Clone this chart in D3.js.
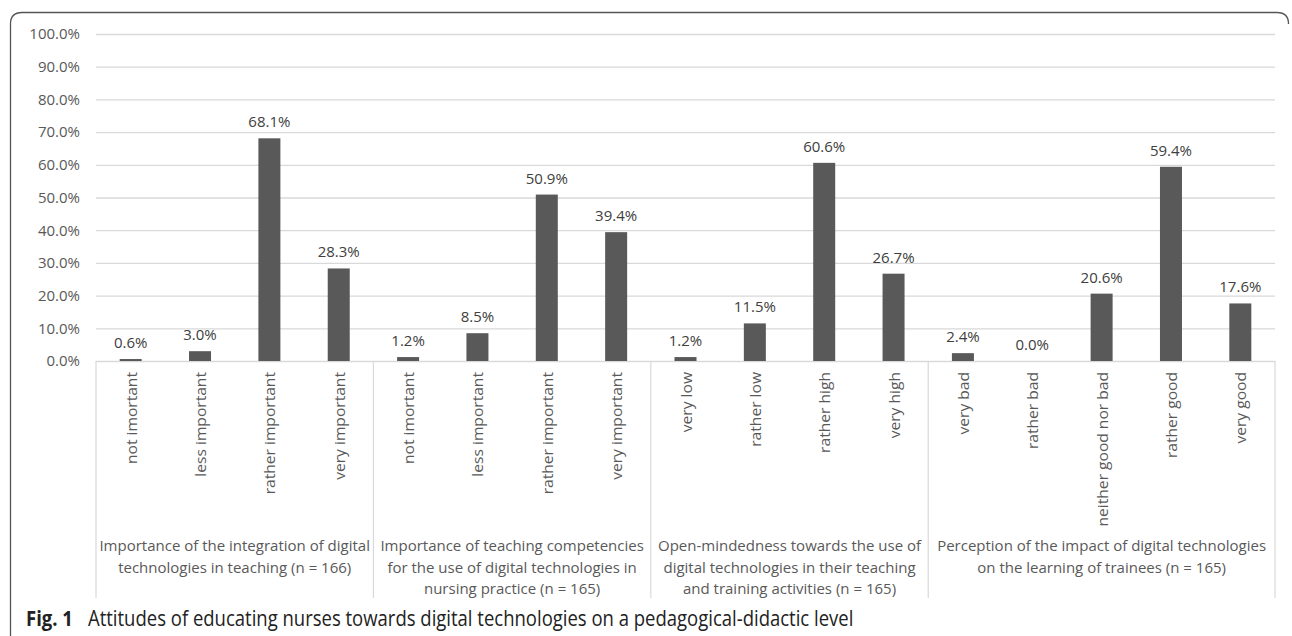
<!DOCTYPE html>
<html>
<head>
<meta charset="utf-8">
<script src="https://cdn.jsdelivr.net/npm/d3@7"></script>
<style>
  body { margin: 0; background: #fff; }
  svg { display: block; font-family: "Open Sans", sans-serif; }
</style>
</head>
<body>
<script>
// groups of answers, in drawing order
var groupTitles = [
  ["Importance of the integration of digital", "technologies in teaching (n = 166)"],
  ["Importance of teaching competencies", "for the use of digital technologies in", "nursing practice (n = 165)"],
  ["Open-mindedness towards the use of", "digital technologies in their teaching", "and training activities (n = 165)"],
  ["Perception of the impact of digital technologies", "on the learning of trainees (n = 165)"]
];
var groupSizes = [4, 4, 4, 5];
var answers = [
  "not imortant", "less important", "rather important", "very important",
  "not imortant", "less important", "rather important", "very important",
  "very low", "rather low", "rather high", "very high",
  "very bad", "rather bad", "neither good nor bad", "rather good", "very good"
];
var shares = [0.6, 3.0, 68.1, 28.3, 1.2, 8.5, 50.9, 39.4, 1.2, 11.5, 60.6, 26.7, 2.4, 0.0, 20.6, 59.4, 17.6];
var yTicks = [0, 10, 20, 30, 40, 50, 60, 70, 80, 90, 100];

var W = 1292, H = 636;
var plotL = 96, plotR = 1275, plotT = 34, plotB = 361;

var svg = d3.select("body").append("svg").attr("width", W).attr("height", H);

// frame round the figure
svg.append("path")
  .attr("d", "M10.5," + H + " L10.5,24 Q10.5,12.5 22,12.5 L1277,12.5 Q1288.5,12.5 1288.5,24")
  .attr("fill", "none").attr("stroke", "#555").attr("stroke-width", 1.3);

var idx = d3.range(answers.length);
var x = d3.scaleBand().domain(idx).range([plotL, plotR]).paddingInner(0).paddingOuter(0);
var y = d3.scaleLinear().domain([0, 100]).range([plotB, plotT]);

// gridlines + y labels
var yAxis = d3.axisLeft(y).tickValues(yTicks).tickSize(-(plotR - plotL)).tickPadding(16)
  .tickFormat(function(d) { return d.toFixed(1) + "%"; });
var ga = svg.append("g").attr("transform", "translate(" + plotL + ",0)").call(yAxis);
ga.select(".domain").remove();
ga.selectAll(".tick line").attr("stroke", "#d9d9d9").attr("stroke-width", 1.3);
ga.selectAll(".tick text").attr("fill", "#595959").style("font-size", "15px")
  .style("font-family", "Open Sans");

// group separators
var bounds = [0];
groupSizes.forEach(function(n, i) { bounds.push(bounds[i] + n); });
function edge(b) { return b < answers.length ? x(b) : plotR; }
svg.append("g").selectAll("line").data(bounds).join("line")
  .attr("x1", edge).attr("x2", edge)
  .attr("y1", plotB).attr("y2", 598)
  .attr("stroke", "#d9d9d9").attr("stroke-width", 1.2);

// bars
var bw = 22;
svg.append("g").selectAll("rect").data(idx).join("rect")
  .attr("x", function(i) { return x(i) + x.bandwidth() / 2 - bw / 2; })
  .attr("y", function(i) { return y(shares[i]); })
  .attr("width", bw)
  .attr("height", function(i) { return plotB - y(shares[i]); })
  .attr("fill", "#595959");

// value labels
svg.append("g").selectAll("text").data(idx).join("text")
  .attr("x", function(i) { return x(i) + x.bandwidth() / 2; })
  .attr("y", function(i) { return y(shares[i]) - 11; })
  .attr("text-anchor", "middle")
  .attr("fill", "#404040").style("font-size", "15px")
  .text(function(i) { return shares[i].toFixed(1) + "%"; });

// rotated answer labels
svg.append("g").selectAll("text").data(idx).join("text")
  .attr("transform", function(i) {
    return "translate(" + (x(i) + x.bandwidth() / 2 + 6) + ",372) rotate(-90) scale(1.04,1)";
  })
  .attr("text-anchor", "end")
  .attr("fill", "#595959").style("font-size", "15px")
  .text(function(i) { return answers[i]; });

// group titles
groupTitles.forEach(function(lines, g) {
  var cx = (edge(bounds[g]) + edge(bounds[g + 1])) / 2;
  var t = svg.append("text").attr("text-anchor", "middle")
    .attr("fill", "#595959").style("font-size", "15px");
  lines.forEach(function(s, k) {
    t.append("tspan").attr("x", cx).attr("y", 551 + k * 21.5).text(s);
  });
});

// caption
var cap = svg.append("text").attr("transform", "translate(0,626) scale(1,1.15)")
  .attr("fill", "#222").style("font-size", "18.5px");
cap.append("tspan").attr("x", 26).style("font-weight", "bold").text("Fig. 1");
cap.append("tspan").attr("x", 88).text("Attitudes of educating nurses towards digital technologies on a pedagogical-didactic level");
</script>
</body>
</html>
